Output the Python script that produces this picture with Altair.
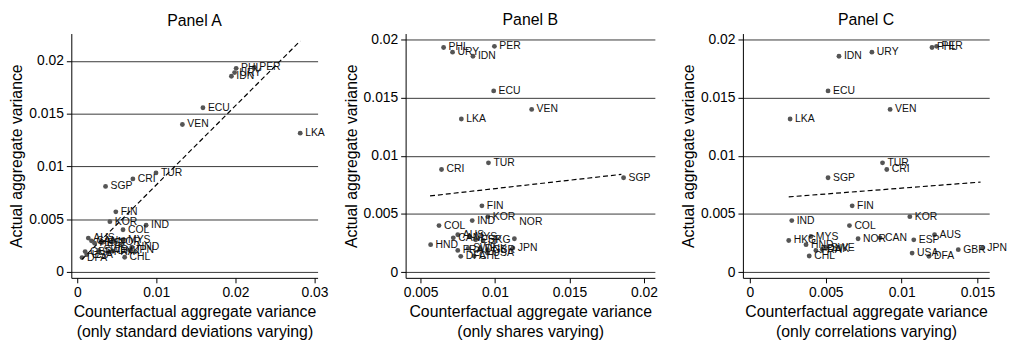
import altair as alt
import pandas as pd

FONT = "Liberation Sans"

countries = ["PHL", "PER", "URY", "IDN", "ECU", "VEN", "LKA", "TUR", "CRI", "SGP",
             "FIN", "KOR", "IND", "COL", "MYS", "AUS", "CAN", "NOR", "ESP", "HKG",
             "HND", "JPN", "SWE", "DNK", "GBR", "FRA", "USA", "CHL", "DFA"]

# actual aggregate variance (same in all panels)
actual = [0.0193, 0.0194, 0.0189, 0.01855, 0.01557, 0.01398, 0.01316, 0.00939, 0.00882, 0.00811,
          0.0057, 0.00477, 0.00443, 0.0040, 0.00306, 0.00321, 0.00295, 0.00287, 0.00278, 0.00272,
          0.00236, 0.00207, 0.00204, 0.00196, 0.00193, 0.00187, 0.00164, 0.00139, 0.00136]

# Panel A: only standard deviations varying
cf_sd = [0.0201, 0.0224, 0.0199, 0.0195, 0.0159, 0.0133, 0.0282, 0.00996, 0.00704, 0.00358,
         0.00488, 0.00413, 0.00871, 0.00579, 0.0058, 0.0014, 0.0018, 0.0045, 0.0031, 0.0022,
         0.0069, 0.0066, 0.0027, 0.0045, 0.0010, 0.0040, 0.0012, 0.0060, 0.0006]

# Panel B: only shares varying
cf_shares = [0.00655, 0.00996, 0.00715, 0.00852, 0.00991, 0.01246, 0.00774, 0.00956, 0.00641, 0.01863,
             0.00912, 0.00952, 0.00847, 0.00624, 0.0083, 0.0075, 0.0072, 0.0113, 0.0087, 0.0092,
             0.00568, 0.0112, 0.0082, 0.0090, 0.0095, 0.0075, 0.0095, 0.0086, 0.0077]

# Panel C: only correlations varying
cf_corr = [0.0120, 0.0123, 0.00804, 0.00587, 0.00515, 0.00924, 0.00265, 0.00874, 0.00902, 0.00515,
           0.00674, 0.01054, 0.00276, 0.00656, 0.00402, 0.01217, 0.00858, 0.00713, 0.0108, 0.00256,
           0.0037, 0.01532, 0.00502, 0.00477, 0.01373, 0.00435, 0.01069, 0.00391, 0.0118]

# fitted (dashed) lines: end points
fit_a_x = [0.0006, 0.0282]
fit_a_y = [0.0012, 0.0219]
fit_b_x = [0.00564, 0.01848]
fit_b_y = [0.00655, 0.0084]
fit_c_x = [0.00256, 0.0152]
fit_c_y = [0.00647, 0.00774]

y_ticks = [0, 0.005, 0.01, 0.015, 0.02]
x_ticks_a = [0, 0.01, 0.02, 0.03]
x_ticks_b = [0.005, 0.01, 0.015, 0.02]
x_ticks_c = [0, 0.005, 0.01, 0.015]


def panel(title, xvals, sub, xdomain, xticks, ydomain, fitx, fity, width, nor_up=False):
    df = pd.DataFrame({"country": countries, "y": actual, "x": xvals})
    xenc = alt.X("x:Q",
                 scale=alt.Scale(domain=xdomain, nice=False, zero=False),
                 axis=alt.Axis(values=xticks, format="~g", grid=False,
                               title=["Counterfactual aggregate variance", sub]))
    yenc = alt.Y("y:Q",
                 scale=alt.Scale(domain=ydomain, nice=False, zero=False),
                 axis=alt.Axis(values=y_ticks, format="~g", grid=True,
                               title="Actual aggregate variance"))
    pts = alt.Chart(df).mark_circle(size=24, color="#555555", opacity=1).encode(x=xenc, y=yenc)
    fit = alt.Chart(pd.DataFrame({"x": fitx, "y": fity})).mark_line(
        color="black", strokeDash=[5, 3], strokeWidth=1.2).encode(x="x:Q", y="y:Q")
    lab_df = df
    layers = [pts, fit]
    if nor_up:
        lab_df = df[df["country"] != "NOR"]
        nor = alt.Chart(df[df["country"] == "NOR"]).mark_text(
            align="left", baseline="middle", dx=5, dy=-17, fontSize=10.5, font=FONT, color="#111111"
        ).encode(x="x:Q", y="y:Q", text="country:N")
        layers.append(nor)
    labels = alt.Chart(lab_df).mark_text(
        align="left", baseline="middle", dx=5, fontSize=10.5, font=FONT, color="#111111"
    ).encode(x="x:Q", y="y:Q", text="country:N")
    layers.append(labels)
    return alt.layer(*layers).properties(width=width, height=247, title=title)


pa = panel("Panel A", cf_sd, "(only standard deviations varying)",
           [-0.00075, 0.0304], x_ticks_a, [-0.00056, 0.0226], fit_a_x, fit_a_y, 249)
pb = panel("Panel B", cf_shares, "(only shares varying)",
           [0.0040, 0.02073], x_ticks_b, [-0.00049, 0.0205], fit_b_x, fit_b_y, 252, nor_up=True)
pc = panel("Panel C", cf_corr, "(only correlations varying)",
           [-0.00046, 0.01577], x_ticks_c, [-0.00049, 0.0205], fit_c_x, fit_c_y, 249)

chart = alt.hconcat(pa, pb, pc, spacing=89, bounds="flush").properties(
    padding={"left": 0, "top": 1, "right": 0, "bottom": 0}
).configure_view(stroke=None).configure_axis(
    domainColor="black", tickColor="black", domainWidth=1, tickWidth=1, tickSize=5,
    labelFont=FONT, titleFont=FONT, labelFontSize=14, titleFontSize=16,
    labelColor="black", titleColor="black", titleFontWeight="normal",
    gridColor="#222222", gridWidth=0.9, labelPadding=3
).configure_axisX(titlePadding=4, titleLineHeight=20).configure_axisY(
    titlePadding=4
).configure_title(font=FONT, fontSize=16, fontWeight="normal", anchor="middle", offset=5, color="black")

chart.save("out.html", embed_options={"renderer": "svg", "actions": False})
